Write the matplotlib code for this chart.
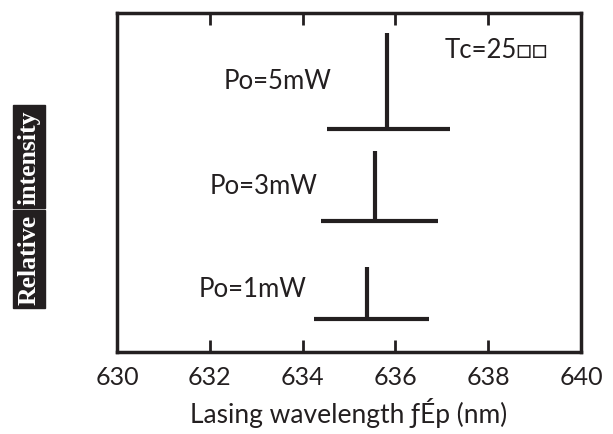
import matplotlib
matplotlib.use("Agg")
from matplotlib import pyplot as plt

# lasing spectra (wavelength in nm, intensity in relative units)
powers = ["Po=5mW", "Po=3mW", "Po=1mW"]
peak_wl = [635.81, 635.56, 635.39]
peak_top = [0.941, 0.593, 0.251]
base_level = [0.658, 0.386, 0.097]
base_left = [634.52, 634.40, 634.25]
base_right = [637.18, 636.91, 636.72]
label_x = [633.47, 633.15, 632.92]
label_y = [0.80, 0.49, 0.186]
xticks = [630, 632, 634, 636, 638, 640]

ink = "#231f20"
plt.rcParams["font.family"] = ["Lato", "DejaVu Sans"]

fig = plt.figure(figsize=(6.13, 4.35), dpi=100)
ax = fig.add_axes([0.1909, 0.1885, 0.757, 0.779])

ax.vlines(peak_wl, base_level, peak_top, color=ink, lw=3.0)
ax.hlines(base_level, base_left, base_right, color=ink, lw=3.0)

for name, x, y in zip(powers, label_x, label_y):
    ax.text(x, y, name, ha="center", va="center", fontsize=18.5, color=ink)

ax.text(637.05, 0.894, "Tc=25\u25a1\u25a1", ha="left", va="center",
        fontsize=18.5, color=ink)

ax.set_xlim(630, 640)
ax.set_ylim(0, 1)
ax.set_xticks(xticks)
ax.set_yticks([])
ax.tick_params(axis="x", direction="in", top=True, bottom=True,
               length=8.5, width=2, color=ink, pad=9,
               labelsize=18, labelcolor=ink)
for s in ax.spines.values():
    s.set_linewidth(2.5)
    s.set_color(ink)

ax.set_xlabel("Lasing wavelength \u0192\u00c9p (nm)", fontsize=19,
              color=ink, labelpad=7)

# y label drawn as white serif text on black boxes
box = dict(facecolor=ink, edgecolor=ink, pad=3)
fig.text(29 / 613, 1 - 260 / 435, "Relative", rotation=90, ha="center",
         va="center", color="white", fontsize=18.5, fontweight="bold",
         family="Liberation Serif", bbox=box)
fig.text(29 / 613, 1 - 157.5 / 435, "intensity", rotation=90, ha="center",
         va="center", color="white", fontsize=18.5, fontweight="bold",
         family="Liberation Serif", bbox=box)

fig.savefig("out.png", dpi=100)
